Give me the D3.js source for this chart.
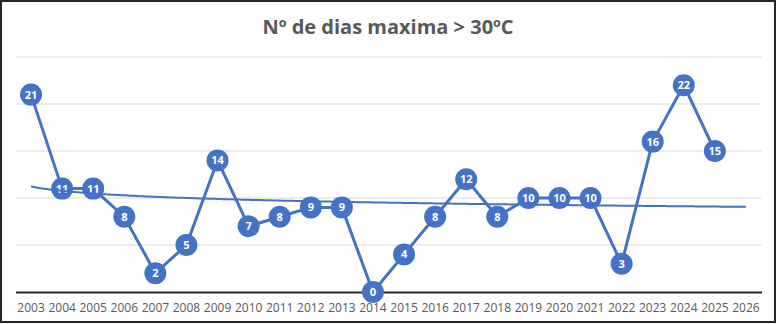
<!DOCTYPE html>
<html>
<head>
<meta charset="utf-8">
<script src="https://cdn.jsdelivr.net/npm/d3@7"></script>
<style>
  body { margin: 0; background: #fff; }
</style>
</head>
<body>
<div id="chart"></div>
<script>
// years on the category axis (2026 has no value yet)
var years = ["2003","2004","2005","2006","2007","2008","2009","2010","2011","2012","2013","2014",
             "2015","2016","2017","2018","2019","2020","2021","2022","2023","2024","2025","2026"];
// number of days with max temperature above 30ºC
var dias = [21,11,11,8,2,5,14,7,8,9,9,0,4,8,12,8,10,10,10,3,16,22,15];
var yTicks = [0,5,10,15,20,25];

var W = 777, H = 324;

var svg = d3.select("#chart").append("svg")
  .attr("width", W)
  .attr("height", H);

// outer frame
svg.append("rect")
  .attr("x", 1).attr("y", 1)
  .attr("width", W - 3).attr("height", H - 3)
  .attr("fill", "#fff")
  .attr("stroke", "#262626")
  .attr("stroke-width", 2);

var x = d3.scaleBand()
  .domain(years)
  .range([15.5, 761.5]);

var y = d3.scaleLinear()
  .domain([0, 25])
  .range([292, 57]);

var cx = function(i) { return x(years[i]) + x.bandwidth() / 2; };

// title
svg.append("text")
  .attr("x", 388)
  .attr("y", 34)
  .attr("text-anchor", "middle")
  .style("font-family", "'Open Sans', sans-serif")
  .style("font-weight", "bold")
  .style("font-size", "20px")
  .style("fill", "#595959")
  .text("Nº de dias maxima > 30ºC");

// horizontal gridlines
svg.append("g")
  .selectAll("line")
  .data(yTicks.slice(1))
  .enter().append("line")
    .attr("x1", x.range()[0])
    .attr("x2", x.range()[1])
    .attr("y1", function(d) { return y(d); })
    .attr("y2", function(d) { return y(d); })
    .attr("stroke", "#d9d9d9")
    .attr("stroke-width", 1);

// category axis
var xAxis = svg.append("g")
  .attr("transform", "translate(0," + y(0) + ")")
  .call(d3.axisBottom(x).tickSize(0).tickPadding(11));
xAxis.select(".domain")
  .attr("stroke", "#262626")
  .attr("stroke-width", 2);
xAxis.selectAll("text")
  .style("font-family", "'Open Sans', sans-serif")
  .style("font-size", "12px")
  .style("fill", "#595959");

// data line
var line = d3.line()
  .x(function(d, i) { return cx(i); })
  .y(function(d) { return y(d); });

svg.append("path")
  .datum(dias)
  .attr("d", line)
  .attr("fill", "none")
  .attr("stroke", "#4472C4")
  .attr("stroke-width", 3)
  .attr("stroke-linejoin", "round");

// markers with value labels
var pts = svg.append("g")
  .selectAll("g")
  .data(dias)
  .enter().append("g")
    .attr("transform", function(d, i) { return "translate(" + cx(i) + "," + y(d) + ")"; });

pts.append("circle")
  .attr("r", 11)
  .attr("fill", "#4472C4");

pts.append("text")
  .attr("text-anchor", "middle")
  .attr("dy", "0.36em")
  .style("font-family", "'Open Sans', sans-serif")
  .style("font-weight", "bold")
  .style("font-size", "11px")
  .style("fill", "#fff")
  .text(function(d) { return d; });

// logarithmic trendline: y = a + b*ln(n), n = 1..23, extended to 2026
var lx = dias.map(function(d, i) { return Math.log(i + 1); });
var mx = d3.mean(lx), my = d3.mean(dias);
var sxy = d3.sum(dias, function(d, i) { return (lx[i] - mx) * (d - my); });
var sxx = d3.sum(lx, function(v) { return (v - mx) * (v - mx); });
var b = sxy / sxx, a = my - b * mx;

var trendPts = d3.range(1, years.length + 0.001, 0.1).map(function(n) {
  return [x(years[0]) + x.bandwidth() / 2 + (n - 1) * x.step(), y(a + b * Math.log(n))];
});

svg.append("path")
  .datum(trendPts)
  .attr("d", d3.line())
  .attr("fill", "none")
  .attr("stroke", "#4472C4")
  .attr("stroke-width", 2);
</script>
</body>
</html>
